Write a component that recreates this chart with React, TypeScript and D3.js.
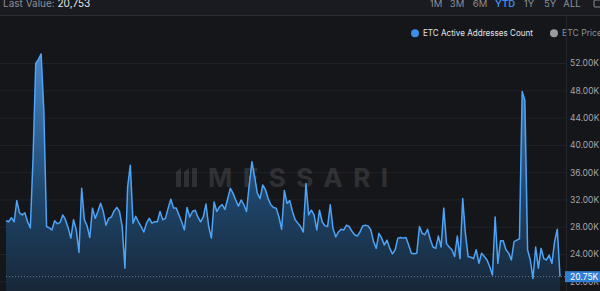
import React from "react";
import * as d3 from "d3";

const values: number[] = [
  28.95, 28.8, 29.4, 28.8, 31.9, 30.1, 29.8, 30.1, 28.8, 27.9,
  38.0, 52.0, 52.6, 53.4, 45.0, 28.1, 27.9, 27.6, 28.95, 28.5,
  28.7, 29.8, 29.1, 27.9, 26.4, 29.1, 27.6, 24.3, 33.7, 29.1,
  28.2, 26.5, 30.8, 29.3, 30.3, 31.5, 30.3, 28.3, 29.3, 29.5,
  30.4, 30.9, 30.3, 28.1, 22.0, 33.9, 37.1, 28.6, 29.6, 28.8,
  28.1, 27.3, 28.6, 29.3, 28.6, 28.8, 28.8, 30.3, 29.1, 29.3,
  30.8, 32.1, 30.8, 30.8, 29.8, 28.8, 27.6, 30.9, 29.5, 30.3,
  30.5, 29.5, 28.8, 29.5, 31.4, 28.1, 26.4, 31.7, 30.3, 31.0,
  31.3, 30.6, 32.1, 33.7, 33.0, 32.0, 31.1, 32.0, 31.3, 30.3,
  34.2, 37.6, 35.4, 33.0, 32.2, 34.2, 33.5, 32.2, 31.3, 30.9,
  30.8, 29.5, 27.7, 33.4, 31.5, 31.9, 30.3, 29.1, 28.6, 28.1,
  27.3, 34.4, 29.8, 30.5, 29.8, 27.6, 30.5, 28.8, 28.2, 28.1,
  31.3, 27.8, 26.6, 27.3, 27.7, 27.6, 28.3, 28.1, 27.4, 26.9,
  26.7, 27.3, 28.2, 28.3, 28.2, 27.6, 25.9, 24.9, 27.1, 26.4,
  25.4, 26.1, 24.9, 24.1, 24.7, 26.4, 26.5, 26.4, 26.5, 25.4,
  24.2, 24.1, 24.2, 28.1, 27.1, 26.9, 27.7, 26.2, 25.1, 24.9,
  26.7, 25.1, 30.8, 25.6, 25.1, 24.7, 23.7, 26.7, 23.4, 32.2,
  27.1, 23.7, 23.6, 23.4, 24.7, 22.7, 24.2, 23.7, 23.2, 22.2,
  21.0, 29.5, 22.7, 26.0, 26.0, 24.7, 24.2, 23.2, 25.9, 26.1,
  26.3, 47.9, 46.6, 24.7, 23.2, 20.5, 25.1, 22.0, 24.9, 23.4,
  23.2, 23.9, 22.7, 25.9, 27.7, 20.753,
];

const yTicks: number[] = [20, 24, 28, 32, 36, 40, 44, 48, 52];
const rangeButtons: string[] = ["1M", "3M", "6M", "YTD", "1Y", "5Y", "ALL"];
const rangeX: number[] = [436, 457, 480, 505, 529, 550, 572];
const activeRange = "YTD";
const seriesName = "ETC Active Addresses Count";
const otherSeries = "ETC Price";
const lastValueText = "20,753";
const watermark = "MESSARI";

const W = 600;
const H = 291;
const FONT = "Inter, 'Noto Sans', 'DejaVu Sans', sans-serif";

export default function App() {
  const x = d3.scaleLinear().domain([0, values.length - 1]).range([6, 560]);
  const y = d3.scaleLinear().domain([20, 52]).range([281.8, 63.5]);
  const line = d3
    .line<number>()
    .x((_, i) => x(i))
    .y((d) => y(d))
    .curve(d3.curveLinear);
  const area = d3
    .area<number>()
    .x((_, i) => x(i))
    .y0(H + 2)
    .y1((d) => y(d))
    .curve(d3.curveLinear);
  const last = values[values.length - 1];
  const fmt = (v: number) => `${v.toFixed(2)}K`;

  return (
    <svg
      width={W}
      height={H}
      style={{ position: "fixed", left: 0, top: 0, display: "block", background: "#15161a" }}
      fontFamily={FONT}
    >
      <defs>
        <linearGradient id="fillGrad" gradientUnits="userSpaceOnUse" x1="0" y1="54" x2="0" y2="291">
          <stop offset="0" stopColor="#4a92dc" />
          <stop offset="0.6" stopColor="#1f4a73" />
          <stop offset="1" stopColor="#18293c" />
        </linearGradient>
      </defs>
      <rect x={0} y={0} width={W} height={H} fill="#15161a" />
      <rect x={0} y={0} width={W} height={15} fill="#1a1b20" />
      <line x1={0} x2={W} y1={15.5} y2={15.5} stroke="#2c2d33" strokeWidth={1} />

      {/* header */}
      <text x={3} y={7} fontSize={10} fill="#8d8f96">
        Last Value: <tspan fill="#e6e6e8">{lastValueText}</tspan>
      </text>
      {rangeButtons.map((b, i) => (
        <text
          key={b}
          x={rangeX[i]}
          y={7}
          fontSize={9.5}
          textAnchor="middle"
          fill={b === activeRange ? "#3d8ee6" : "#8d8f96"}
          fontWeight={b === activeRange ? 600 : 400}
        >
          {b}
        </text>
      ))}
      <rect x={594} y={0} width={8} height={7} rx={1} fill="none" stroke="#8d8f96" strokeWidth={1} />

      {/* legend */}
      <circle cx={415} cy={33.3} r={4} fill="#3b8fe6" />
      <text x={423} y={36.3} fontSize={8.6} fill="#e2e3e6" textLength={110} lengthAdjust="spacingAndGlyphs">
        {seriesName}
      </text>
      <circle cx={554} cy={33.3} r={4} fill="#9a9ba0" />
      <text x={562} y={36.3} fontSize={8.6} fill="#8d8f96">
        {otherSeries}
      </text>

      {/* gridlines */}
      {yTicks.map((t) => (
        <line key={t} x1={0} x2={566} y1={y(t)} y2={y(t)} stroke="#212228" strokeWidth={1} />
      ))}

      {/* watermark */}
      <g fill="#ffffff" opacity={0.11}>
        <path d="M176,187 L176,172 L181,168 L181,187 Z" />
        <path d="M184,187 L184,172 L189,168 L189,187 Z" />
        <path d="M192,187 L192,168 L197,168 L197,187 Z" />
        <text x={208} y={187} fontSize={26} fontWeight={700} textLength={180} lengthAdjust="spacing">
          {watermark}
        </text>
      </g>

      {/* area + line */}
      <path d={area(values) || ""} fill="url(#fillGrad)" opacity={0.9} />
      <path d={line(values) || ""} fill="none" stroke="#4fa3f5" strokeWidth={1.5} strokeLinejoin="round" />

      {/* last value dotted line */}
      <line x1={6} x2={566} y1={y(last)} y2={y(last)} stroke="#6a7684" strokeWidth={1} strokeDasharray="1,2" />

      {/* right axis */}
      <line x1={566.5} x2={566.5} y1={16} y2={H} stroke="#25262c" strokeWidth={1} />
      {yTicks.map((t) => (
        <text key={t} x={570} y={y(t)} dy="0.35em" fontSize={8.5} fill="#a3a5ab">
          {fmt(t)}
        </text>
      ))}
      <rect x={565} y={y(last) - 5.5} width={35} height={11} fill="#2f7fd6" />
      <text x={570} y={y(last)} dy="0.35em" fontSize={8.5} fill="#ffffff">
        {fmt(last)}
      </text>
    </svg>
  );
}
